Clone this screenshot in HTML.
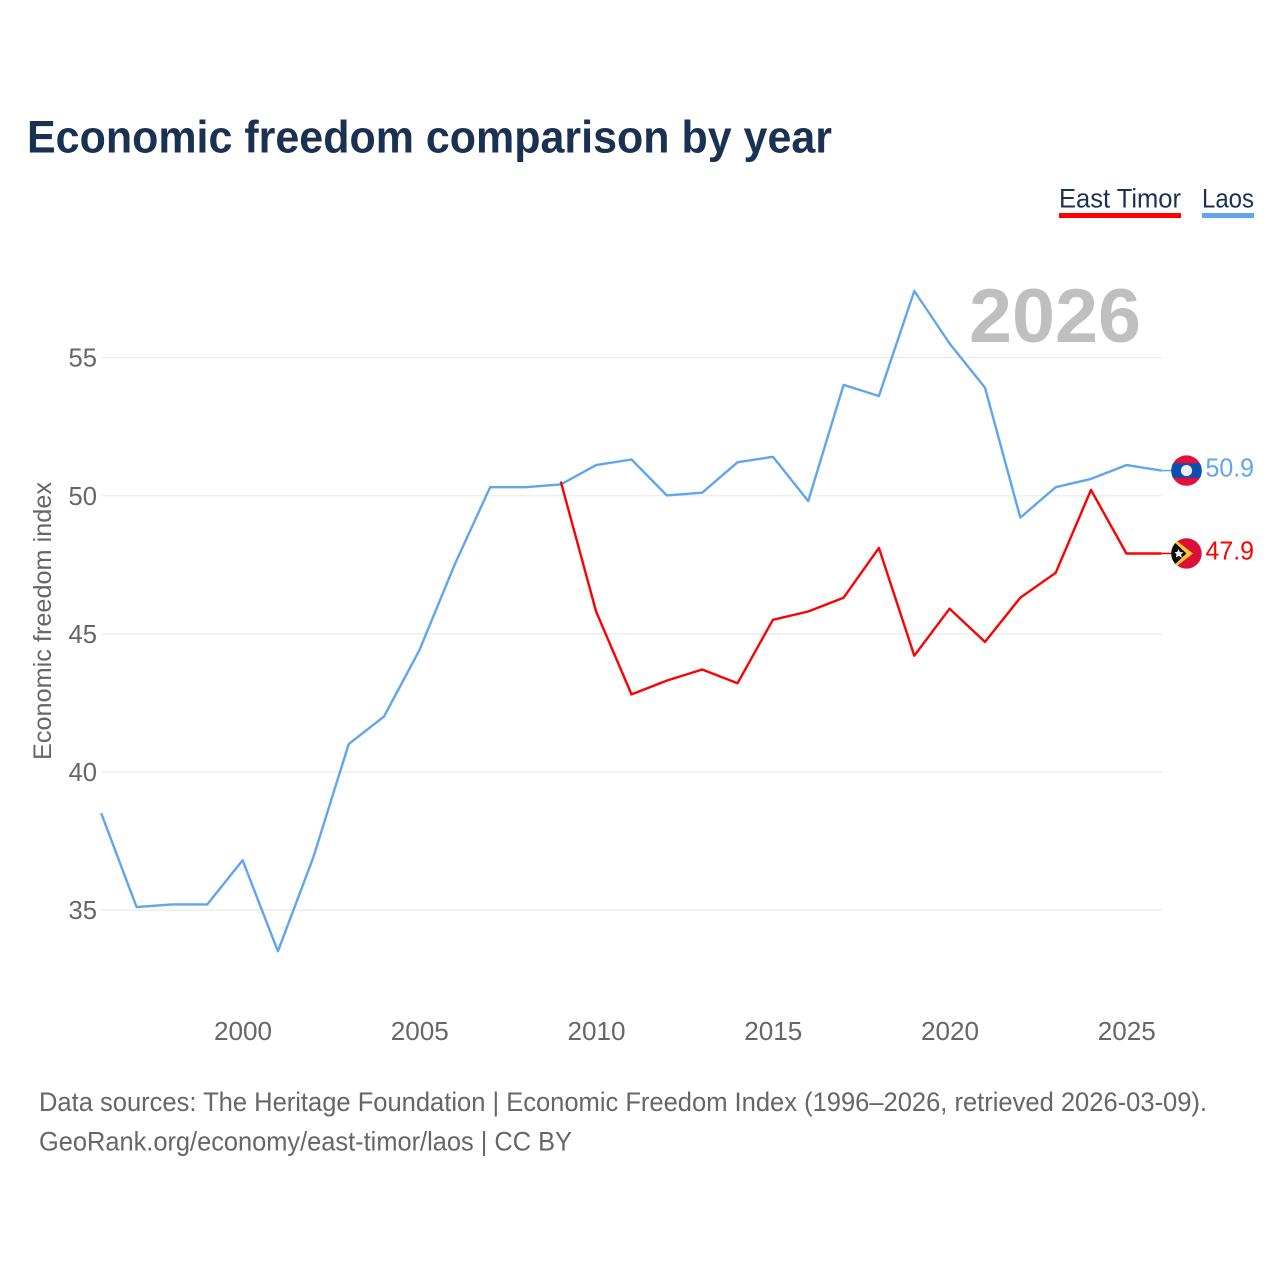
<!DOCTYPE html>
<html>
<head>
<meta charset="utf-8">
<title>Economic freedom comparison by year</title>
<style>
html,body{margin:0;padding:0;background:#fff;width:1280px;height:1280px;overflow:hidden}
svg{display:block}
text{font-family:"Liberation Sans",sans-serif}
</style>
</head>
<body>
<svg id="chart" xmlns="http://www.w3.org/2000/svg" width="1280" height="1280" viewBox="0 0 1280 1280">
<defs>
<clipPath id="flag-clip"><circle r="15.3"/></clipPath>
</defs>
<rect width="1280" height="1280" fill="#fff"/>
<text x="27" y="152.5" font-size="45" font-weight="700" fill="#1a3152" textLength="805" lengthAdjust="spacingAndGlyphs">Economic freedom comparison by year</text>
<g>
<g>
<text x="1059" y="207.5" font-size="27" fill="#1a3152" textLength="122" lengthAdjust="spacingAndGlyphs">East Timor</text>
<rect x="1059" y="213" width="122" height="5" fill="#ff0000"/>
</g>
<g>
<text x="1202" y="207.5" font-size="27" fill="#1a3152" textLength="52" lengthAdjust="spacingAndGlyphs">Laos</text>
<rect x="1202" y="213" width="52" height="5" fill="#61a5ec"/>
</g>
</g>
<text x="1141" y="342" font-size="76" font-weight="700" fill="#bfbfbf" text-anchor="end" textLength="172" lengthAdjust="spacingAndGlyphs">2026</text>
<g id="grid"></g>
<g id="yticks"></g>
<g id="xticks"></g>
<text transform="translate(51,621) rotate(-90)" font-size="25" fill="#666" text-anchor="middle" textLength="278" lengthAdjust="spacingAndGlyphs">Economic freedom index</text>
<g id="series"></g>
<g id="endmarks"></g>
<text x="39" y="1111" font-size="27" fill="#666" textLength="1168" lengthAdjust="spacingAndGlyphs">Data sources: The Heritage Foundation | Economic Freedom Index (1996–2026, retrieved 2026-03-09).</text>
<text x="39" y="1150.5" font-size="27" fill="#666" textLength="533" lengthAdjust="spacingAndGlyphs">GeoRank.org/economy/east-timor/laos | CC BY</text>
</svg>
<script>
const laosYears = [1996,1997,1998,1999,2000,2001,2002,2003,2004,2005,2006,2007,2008,2009,2010,2011,2012,2013,2014,2015,2016,2017,2018,2019,2020,2021,2022,2023,2024,2025,2026];
const laosValues = [38.5,35.1,35.2,35.2,36.8,33.5,36.9,41.0,42.0,44.4,47.5,50.3,50.3,50.4,51.1,51.3,50.0,50.1,51.2,51.4,49.8,54.0,53.6,57.4,55.5,53.9,49.2,50.3,50.6,51.1,50.9];
const timorYears = [2009,2010,2011,2012,2013,2014,2015,2016,2017,2018,2019,2020,2021,2022,2023,2024,2025,2026];
const timorValues = [50.5,45.8,42.8,43.3,43.7,43.2,45.5,45.8,46.3,48.1,44.2,45.9,44.7,46.3,47.2,50.2,47.9,47.9];
const yTickValues = [35,40,45,50,55];
const xTickValues = [2000,2005,2010,2015,2020,2025];

const NS = 'http://www.w3.org/2000/svg';
const xScale = function (year) { return 101.2 + (year - 1996) * 35.35; };
const yScale = function (v) { return 909.9 - (v - 35) * 27.63; };

function make(tag, attrs, parent) {
  const el = document.createElementNS(NS, tag);
  Object.keys(attrs).forEach(function (k) { el.setAttribute(k, attrs[k]); });
  parent.appendChild(el);
  return el;
}

const grid = document.getElementById('grid');
const yticks = document.getElementById('yticks');
const xticks = document.getElementById('xticks');
const series = document.getElementById('series');
const endmarks = document.getElementById('endmarks');

yTickValues.forEach(function (v) {
  const line = make('line', {x1: 101.6, x2: 1162, y1: yScale(v) + 0.3, y2: yScale(v) + 0.3, stroke: '#ebebeb', 'stroke-width': 1.3}, grid);
  
  
  const label = make('text', {x: 97, y: yScale(v) + 9.3, 'font-size': 25.5, fill: '#666', 'text-anchor': 'end', textLength: 28.5, lengthAdjust: 'spacingAndGlyphs'}, yticks);
  label.textContent = String(v);
  
  
});

xTickValues.forEach(function (year) {
  const label = make('text', {x: xScale(year) + 0.4, y: 1040, 'font-size': 25.5, fill: '#666', 'text-anchor': 'middle', textLength: 58, lengthAdjust: 'spacingAndGlyphs'}, xticks);
  label.textContent = String(year);
  
  
});

function points(years, values) {
  return years.map(function (y, i) { return xScale(y).toFixed(1) + ',' + yScale(values[i]).toFixed(1); }).join(' ');
}

const laosLine = make('polyline', {points: points(laosYears, laosValues), fill: 'none', stroke: '#61a5ec', 'stroke-width': 2.4, 'stroke-linejoin': 'round'}, series);



const timorLine = make('polyline', {points: points(timorYears, timorValues), fill: 'none', stroke: '#ff0000', 'stroke-width': 2.4, 'stroke-linejoin': 'round'}, series);



function endGroup(name, value, color) {
  const y = yScale(value);
  const g = make('g', {}, endmarks);
  
  
  make('line', {x1: 1161.7, x2: 1172, y1: y, y2: y, stroke: color, 'stroke-width': 1.5}, g);
  const label = make('text', {x: 1254, y: y + 6, 'font-size': 25.5, fill: color, 'text-anchor': 'end', textLength: 48.5, lengthAdjust: 'spacingAndGlyphs'}, g);
  label.textContent = value.toFixed(1);
  
  
  return {g: g, y: y};
}

const flagX = 1186.5;

const laosEnd = endGroup('laos', laosValues[laosValues.length - 1], '#61a5ec');
const laosFlag = make('g', {transform: 'translate(' + flagX + ',' + laosEnd.y + ')', 'clip-path': 'url(#flag-clip)'}, laosEnd.g);


make('circle', {r: 15.3, fill: '#e2103a'}, laosFlag);
make('rect', {x: -16, y: -7.3, width: 32, height: 14.6, fill: '#0b50b0'}, laosFlag);
make('circle', {r: 5.6, fill: '#f0f0f0'}, laosFlag);

const timorEnd = endGroup('east-timor', timorValues[timorValues.length - 1], '#ff0000');
const timorFlag = make('g', {transform: 'translate(' + flagX + ',' + timorEnd.y + ')', 'clip-path': 'url(#flag-clip)'}, timorEnd.g);


make('circle', {r: 15.3, fill: '#dc0f38'}, timorFlag);
make('path', {d: 'M-16,-17.5 L6.5,0 L-16,17.5 Z', fill: '#ffc72c'}, timorFlag);
make('path', {d: 'M-16,-15 L0,0 L-16,15 Z', fill: '#0a0a0a'}, timorFlag);
make('path', {d: 'M-8,-4.5 L-6.5,-1.4 L-3,-1.2 L-5.4,0.9 L-4.6,4.4 L-7.8,2.4 L-10.6,4 L-10,0.6 L-12,-1.4 L-9.2,-1.6 Z', fill: '#f2f2f2'}, timorFlag);
</script>
</body>
</html>
